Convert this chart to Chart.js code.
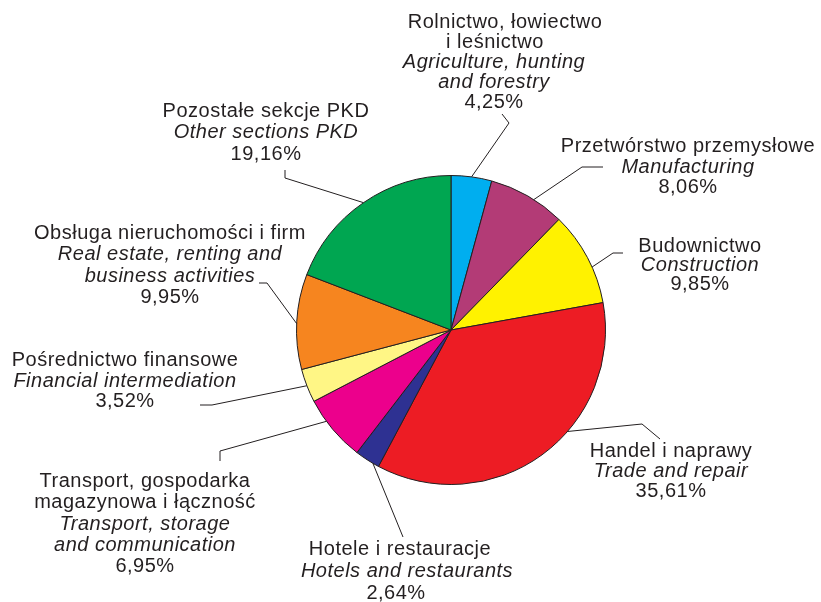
<!DOCTYPE html>
<html>
<head>
<meta charset="utf-8">
<script src="https://cdn.jsdelivr.net/npm/chart.js@4.4.0/dist/chart.umd.min.js"></script>
<style>
  html, body { margin: 0; padding: 0; background: #fff; }
  canvas { display: block; }
</style>
</head>
<body>
<canvas id="pieChart" width="821" height="602"></canvas>
<script>
// categories (Polish / English), shares in %
const namesPl = [
    ['Rolnictwo, łowiectwo', 'i leśnictwo'],
    ['Przetwórstwo przemysłowe'],
    ['Budownictwo'],
    ['Handel i naprawy'],
    ['Hotele i restauracje'],
    ['Transport, gospodarka', 'magazynowa i łączność'],
    ['Pośrednictwo finansowe'],
    ['Obsługa nieruchomości i firm'],
    ['Pozostałe sekcje PKD']
];
const namesEn = [
    ['Agriculture, hunting', 'and forestry'],
    ['Manufacturing'],
    ['Construction'],
    ['Trade and repair'],
    ['Hotels and restaurants'],
    ['Transport, storage', 'and communication'],
    ['Financial intermediation'],
    ['Real estate, renting and', 'business activities'],
    ['Other sections PKD']
];
const shares = [4.25, 8.06, 9.85, 35.61, 2.64, 6.95, 3.52, 9.95, 19.16];

const colors = ['#00aeef', '#b33b76', '#fff200', '#ed1c24', '#2e3192', '#ec008c', '#fff685', '#f6851f', '#00a651'];
const ink = '#231f20';

// where each label sits and how its leader line runs
const labelLayout = [
    { x: 494, y: 28, lh: 19.9, dx: [11, 1], at: 0.5, leader: [[509, 123], [502, 114]] },
    { x: 688, y: 152, lh: 20.7, at: 0.59, leader: [[582, 167], [603, 167]] },
    { x: 700, y: 252, lh: 19.2, at: 0.61, leader: [[613, 253], [623, 253]] },
    { x: 671, y: 457, lh: 20, at: 0.4, leader: [[642, 424], [660, 439]] },
    { x: 402, y: 555, lh: 22, dx: [-2, 5, -6], at: 0.25, leader: [[403, 537]] },
    { x: 145, y: 487, lh: 21.35, at: 0.65, leader: [[220, 451], [220, 461]] },
    { x: 125, y: 366, lh: 20.5, at: 0.5, leader: [[212, 405], [200, 405]] },
    { x: 170, y: 239, lh: 21.4, at: 0.48, leader: [[267, 283], [259, 283]] },
    { x: 266, y: 117, lh: 21.3, at: 0.5, leader: [[285, 178], [285, 170]] }
];

const leaderLabels = {
    id: 'leaderLabels',
    afterDatasetsDraw(chart) {
        const ctx = chart.ctx;
        const arcs = chart.getDatasetMeta(0).data;
        ctx.save();
        ctx.strokeStyle = ink;
        ctx.fillStyle = ink;
        ctx.lineWidth = 1;
        ctx.textAlign = 'center';
        ctx.textBaseline = 'alphabetic';
        if ('letterSpacing' in ctx) ctx.letterSpacing = '0.5px';
        arcs.forEach((arc, i) => {
            const lay = labelLayout[i];
            const p = arc.getProps(['x', 'y', 'startAngle', 'endAngle', 'outerRadius'], true);
            const a = p.startAngle + lay.at * (p.endAngle - p.startAngle);
            ctx.beginPath();
            ctx.moveTo(p.x + Math.cos(a) * p.outerRadius, p.y + Math.sin(a) * p.outerRadius);
            lay.leader.forEach(pt => ctx.lineTo(pt[0], pt[1]));
            ctx.stroke();

            const lines = namesPl[i].map(t => [t, 'normal'])
                .concat(namesEn[i].map(t => [t, 'italic']))
                .concat([[shares[i].toFixed(2).replace('.', ',') + '%', 'normal']]);
            lines.forEach((ln, k) => {
                ctx.font = ln[1] + ' 20px "Liberation Sans", Arial, sans-serif';
                const dx = lay.dx && lay.dx[k] ? lay.dx[k] : 0;
                ctx.fillText(ln[0], lay.x + dx, lay.y + k * lay.lh);
            });
        });
        ctx.restore();
    }
};

new Chart(document.getElementById('pieChart').getContext('2d'), {
    type: 'pie',
    data: {
        labels: namesPl.map(n => n.join(' ')),
        datasets: [{
            data: shares,
            backgroundColor: colors,
            borderColor: ink,
            borderWidth: 1
        }]
    },
    options: {
        responsive: false,
        animation: false,
        devicePixelRatio: 1,
        layout: { padding: { left: 296, right: 215, top: 175, bottom: 117 } },
        plugins: {
            legend: { display: false },
            tooltip: { enabled: false }
        }
    },
    plugins: [leaderLabels]
});
</script>
</body>
</html>
